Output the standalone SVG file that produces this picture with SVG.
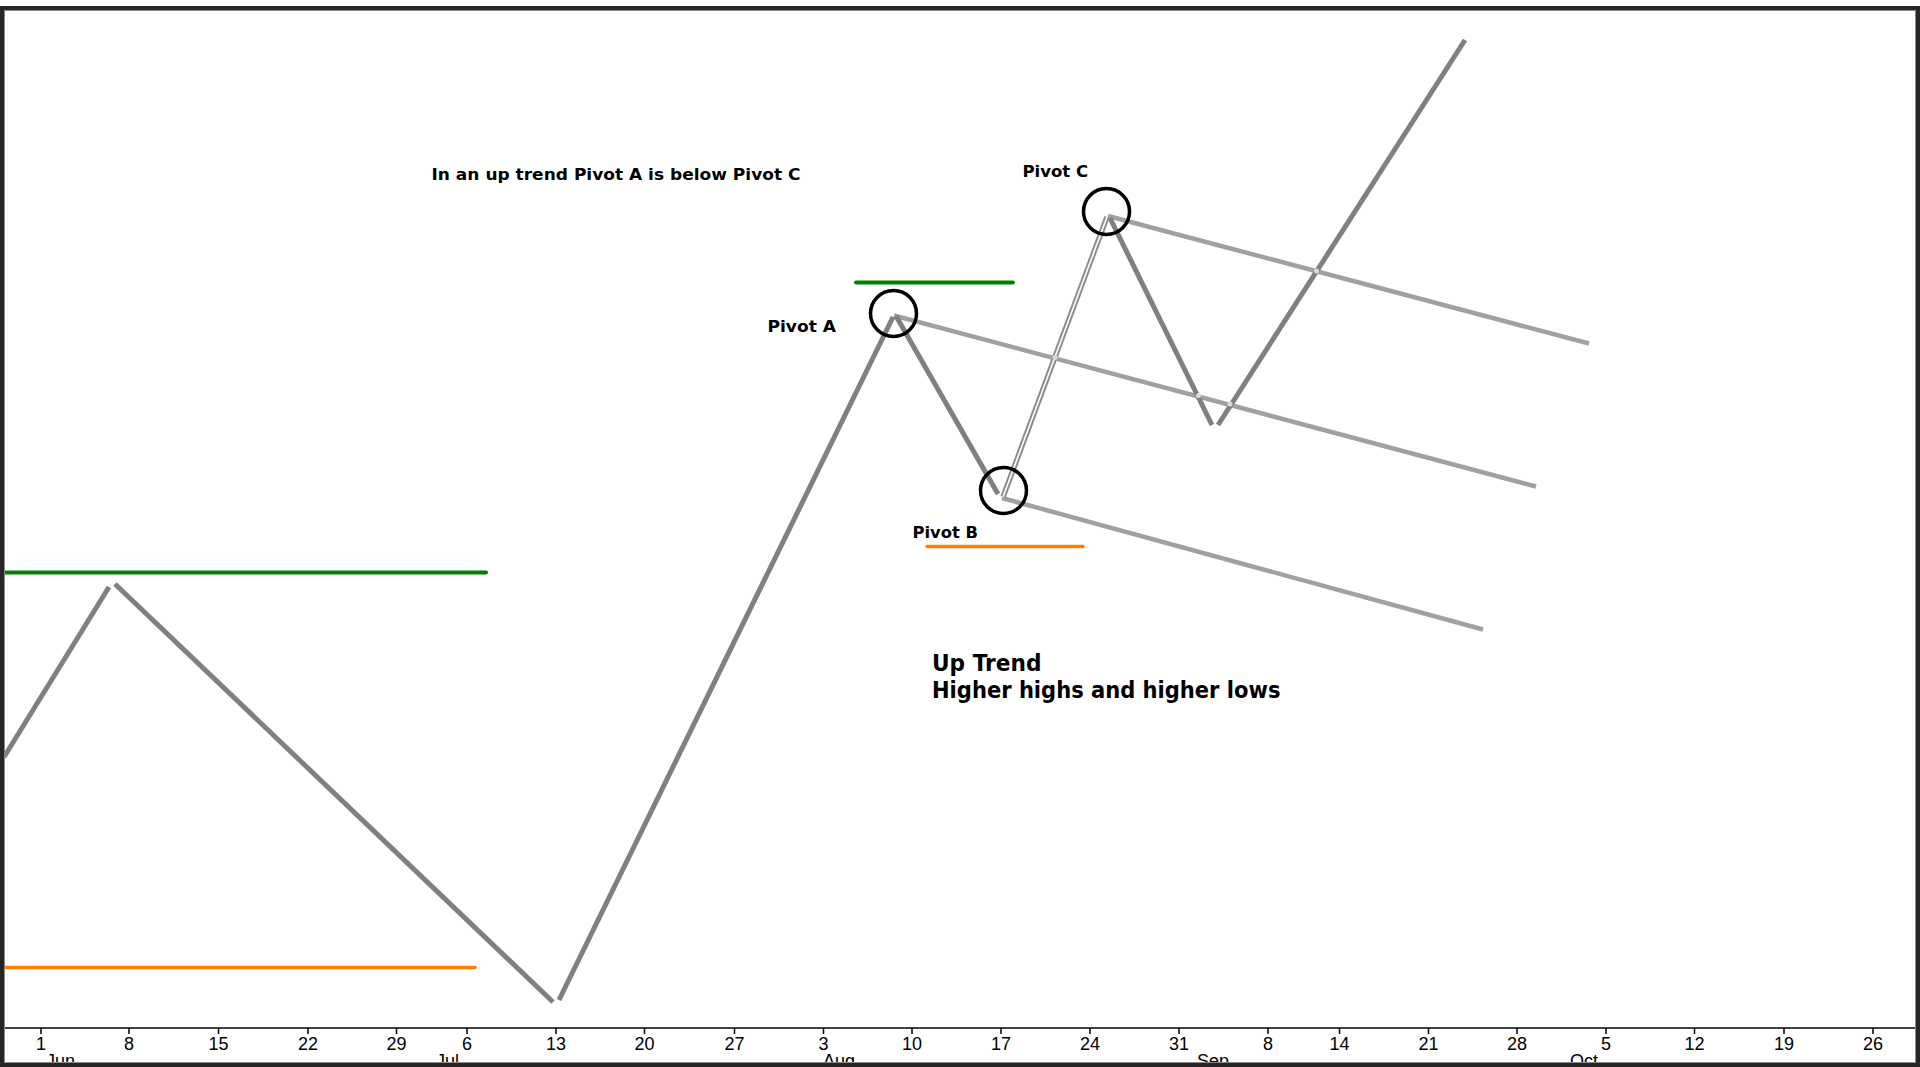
<svg xmlns="http://www.w3.org/2000/svg" width="1920" height="1067" viewBox="0 0 1920 1067">
  <style>
    .price { stroke: #808080; stroke-width: 5; fill: none; stroke-linecap: butt; }
    .chan { stroke: #a0a0a0; stroke-width: 4.5; fill: none; stroke-linecap: butt; }
    .hi { stroke: #008000; stroke-width: 4; stroke-linecap: round; }
    .lo { stroke: #ff8000; stroke-width: 3.5; stroke-linecap: round; }
    .ring { fill: none; stroke: #000; stroke-width: 3.5; }
    .lbl { font-family: "DejaVu Sans", Tahoma, Verdana, sans-serif; font-weight: bold; font-size: 16.5px; fill: #000; }
    .big { font-family: "DejaVu Sans", Tahoma, Verdana, sans-serif; font-weight: bold; font-size: 22.5px; fill: #000; }
    .tick { font-family: "Liberation Sans", Arial, sans-serif; font-size: 18px; fill: #000; text-anchor: middle; }
    .month { font-family: "Liberation Sans", Arial, sans-serif; font-size: 18px; fill: #000; }
    .spot { fill: #dcdcdc; }
  </style>

  <!-- chart background -->
  <rect x="0" y="0" width="1920" height="1067" fill="#ffffff"/>

  <!-- time axis -->
  <g id="axis">
    <line x1="4" y1="1028" x2="1916" y2="1028" stroke="#000" stroke-width="1.5"/>
    <g stroke="#000" stroke-width="1.5">
      <line x1="41" y1="1028" x2="41" y2="1034"/>
      <line x1="129" y1="1028" x2="129" y2="1034"/>
      <line x1="218.5" y1="1028" x2="218.5" y2="1034"/>
      <line x1="308" y1="1028" x2="308" y2="1034"/>
      <line x1="396.5" y1="1028" x2="396.5" y2="1034"/>
      <line x1="467" y1="1028" x2="467" y2="1034"/>
      <line x1="556" y1="1028" x2="556" y2="1034"/>
      <line x1="644.5" y1="1028" x2="644.5" y2="1034"/>
      <line x1="734.5" y1="1028" x2="734.5" y2="1034"/>
      <line x1="823.5" y1="1028" x2="823.5" y2="1034"/>
      <line x1="912" y1="1028" x2="912" y2="1034"/>
      <line x1="1001" y1="1028" x2="1001" y2="1034"/>
      <line x1="1090" y1="1028" x2="1090" y2="1034"/>
      <line x1="1179" y1="1028" x2="1179" y2="1034"/>
      <line x1="1268" y1="1028" x2="1268" y2="1034"/>
      <line x1="1339.5" y1="1028" x2="1339.5" y2="1034"/>
      <line x1="1428.5" y1="1028" x2="1428.5" y2="1034"/>
      <line x1="1517" y1="1028" x2="1517" y2="1034"/>
      <line x1="1606" y1="1028" x2="1606" y2="1034"/>
      <line x1="1694.5" y1="1028" x2="1694.5" y2="1034"/>
      <line x1="1784" y1="1028" x2="1784" y2="1034"/>
      <line x1="1873" y1="1028" x2="1873" y2="1034"/>
    </g>
    <text class="tick" x="41" y="1050">1</text>
    <text class="tick" x="129" y="1050">8</text>
    <text class="tick" x="218.5" y="1050">15</text>
    <text class="tick" x="308" y="1050">22</text>
    <text class="tick" x="396.5" y="1050">29</text>
    <text class="tick" x="467" y="1050">6</text>
    <text class="tick" x="556" y="1050">13</text>
    <text class="tick" x="644.5" y="1050">20</text>
    <text class="tick" x="734.5" y="1050">27</text>
    <text class="tick" x="823.5" y="1050">3</text>
    <text class="tick" x="912" y="1050">10</text>
    <text class="tick" x="1001" y="1050">17</text>
    <text class="tick" x="1090" y="1050">24</text>
    <text class="tick" x="1179" y="1050">31</text>
    <text class="tick" x="1268" y="1050">8</text>
    <text class="tick" x="1339.5" y="1050">14</text>
    <text class="tick" x="1428.5" y="1050">21</text>
    <text class="tick" x="1517" y="1050">28</text>
    <text class="tick" x="1606" y="1050">5</text>
    <text class="tick" x="1694.5" y="1050">12</text>
    <text class="tick" x="1784" y="1050">19</text>
    <text class="tick" x="1873" y="1050">26</text>
    <text class="month" x="46" y="1067">Jun</text>
    <text class="month" x="436" y="1067">Jul</text>
    <text class="month" x="823" y="1067">Aug</text>
    <text class="month" x="1197" y="1067">Sep</text>
    <text class="month" x="1570" y="1067">Oct</text>
  </g>

  <!-- connectors: price swings, channel lines, high/low markers -->
  <g id="connectors">
    <!-- horizontal swing high / swing low markers -->
    <line class="hi" x1="5" y1="572.5" x2="486" y2="572.5"/>
    <line class="lo" x1="5" y1="967.5" x2="475" y2="967.5"/>
    <line class="hi" x1="856" y1="282.5" x2="1013" y2="282.5"/>
    <line class="lo" x1="927" y1="546.5" x2="1083" y2="546.5"/>

    <!-- parallel channel lines from pivots A, B, C -->
    <line class="chan" x1="894" y1="315.5" x2="1536" y2="486.5"/>
    <line class="chan" x1="1002" y1="498" x2="1483" y2="629.5"/>
    <line class="chan" x1="1108" y1="216" x2="1589" y2="343.5"/>

    <!-- zigzag price path -->
    <line class="price" x1="4" y1="757" x2="109" y2="587"/>
    <line class="price" x1="115" y1="584" x2="553" y2="1002"/>
    <line class="price" x1="559" y1="1000" x2="893" y2="317"/>
    <line class="price" x1="896" y1="316" x2="998" y2="494"/>
    <line x1="1003" y1="497" x2="1107" y2="217" stroke="#8c8c8c" stroke-width="5.5"/>
    <line x1="1003" y1="497" x2="1107" y2="217" stroke="#ffffff" stroke-width="1.6"/>
    <line class="price" x1="1110" y1="218" x2="1212" y2="425"/>
    <line class="price" x1="1218" y1="425" x2="1465" y2="40"/>

    <!-- overlap highlights where lines cross -->
    <circle class="spot" cx="1055" cy="357.5" r="2.5"/>
    <circle class="spot" cx="1198.5" cy="395.5" r="2.5"/>
    <circle class="spot" cx="1230" cy="404" r="2.5"/>
    <circle class="spot" cx="1316.5" cy="271" r="2.5"/>
  </g>

  <!-- pivot markers -->
  <g id="pivot-a">
    <circle class="ring" cx="893.5" cy="313.5" r="23"/>
    <text class="lbl" x="767.5" y="331.5" textLength="68.5" lengthAdjust="spacingAndGlyphs">Pivot A</text>
  </g>
  <g id="pivot-b">
    <circle class="ring" cx="1003.5" cy="490.5" r="23"/>
    <text class="lbl" x="912.5" y="537.5" textLength="65.5" lengthAdjust="spacingAndGlyphs">Pivot B</text>
  </g>
  <g id="pivot-c">
    <circle class="ring" cx="1106.5" cy="211.5" r="23"/>
    <text class="lbl" x="1022.5" y="176.5" textLength="65.5" lengthAdjust="spacingAndGlyphs">Pivot C</text>
  </g>

  <!-- notes -->
  <g id="note-rule">
    <text class="lbl" x="431.5" y="179.5" textLength="369" lengthAdjust="spacingAndGlyphs">In an up trend Pivot A is below Pivot C</text>
  </g>
  <g id="note-trend">
    <text class="big" x="932" y="670.5" textLength="109.5" lengthAdjust="spacingAndGlyphs">Up Trend</text>
    <text class="big" x="932" y="697.5" textLength="348.5" lengthAdjust="spacingAndGlyphs">Higher highs and higher lows</text>
  </g>

  <!-- window frame -->
  <g id="frame">
    <rect x="0" y="6" width="1920" height="4" fill="#262626"/>
    <rect x="0" y="6" width="4" height="1061" fill="#262626"/>
    <rect x="1916" y="6" width="4" height="1061" fill="#262626"/>
    <rect x="0" y="1063" width="1920" height="4" fill="#262626"/>
    <rect x="4.5" y="10.5" width="1911" height="1052" fill="none" stroke="#8a8a8a" stroke-width="1"/>
  </g>
</svg>
